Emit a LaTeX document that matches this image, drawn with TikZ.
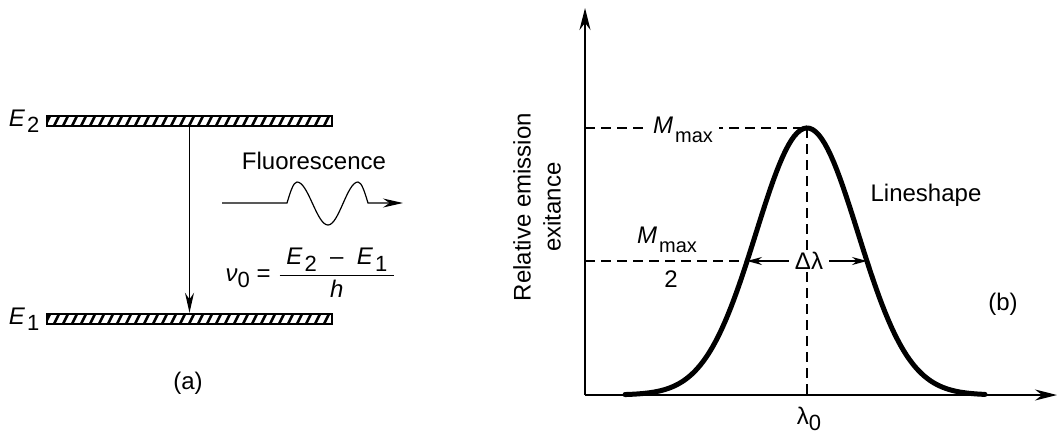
\documentclass[tikz,border=0pt]{standalone}
\usepackage{fontspec}
\setmainfont{Liberation Sans}
\usepackage{amsmath}
\usetikzlibrary{positioning,arrows.meta}
\newcommand{\Elev}[1]{\textit{E}\kern1pt\raisebox{-0.5ex}{\fontsize{11}{11}\selectfont #1}}
\newcommand{\Mmax}{\textit{M}\kern1pt\raisebox{-0.7ex}{\fontsize{10}{10}\selectfont max}}

\begin{document}
\begin{tikzpicture}[
    x=0.5pt,y=-0.5pt,>={Stealth[length=10pt,width=4.5pt]},
    every node/.style={font=\fontsize{12}{15}\selectfont,inner sep=1pt},
    levelbar/.style={draw,line width=1.2pt,minimum width=142.5pt,minimum height=5pt,inner sep=0pt,
        path picture={\foreach \i in {0,...,32}
            \draw[line width=1.3pt] ([xshift=\i*4.5pt-1pt]path picture bounding box.south west) -- ++(3pt,6pt);}},
    guide/.style={dash pattern=on 5pt off 3pt,line width=0.6pt},
    thinline/.style={line width=0.6pt},
    axis/.style={line width=1pt,-{Stealth[length=11pt,width=5.5pt]}},
    profile/.style={line width=2.5pt,line cap=round}
]
    \useasboundingbox (0,0) rectangle (1059,434);
    %Left panel
    \node[levelbar] (E2bar) at (189.5,121) {};
    \node[levelbar] (E1bar) at (189.5,319) {};
    \node[left=2pt of E2bar] (E2) {\Elev{2}};
    \node[left=2pt of E1bar] (E1) {\Elev{1}};
    \draw[thinline,->] (E2bar.south) -- (E1bar.north);
    \node (fluo) at (314,161) {Fluorescence};
    \coordinate (w0) at (222,203);
    \coordinate (w1) at (403,203);
    \draw[thinline,->] (w0) -- (287,203) sin (297,182) cos (312.5,203.5) sin (328,225)
        cos (343,203.5) sin (358,182) cos (368,203) -- (w1);
    \node (freq) at (311,273) {\textit{ν}\raisebox{-0.5ex}{\fontsize{11}{11}\selectfont 0} = $\dfrac{\text{\ \Elev{2} \ – \ \Elev{1}\ }}{\text{\textit{h}}}$};
    \node (tagA) at (188,383) {(a)};
    %Right panel
    \coordinate (O) at (585,395);
    \coordinate (ytop) at (585,8);
    \coordinate (xend) at (1057,395);
    \coordinate (peak) at (807,128);
    \coordinate (hl) at (747,261);
    \coordinate (hr) at (867,261);
    \draw[guide] (O |- peak) -- (peak);
    \draw[guide] (O |- hl) -- (hl);
    \draw[guide] (peak) -- (peak |- O);
    \draw[axis] (O) -- (ytop);
    \draw[axis] (O) -- (xend);
    \draw[profile] plot[domain=625:985,samples=120] (\x,{395-267*exp(-0.5*((\x-807)/51)^2)});
    \node[fill=white,inner xsep=3pt] (mmax) at (683,130) {\Mmax};
    \node (mhalf) at (667,240) {\Mmax};
    \node (two) at (671,279) {2};
    \node[fill=white,inner xsep=3pt] (dl) at (809,261) {Δλ};
    \draw[thinline,->,>={Stealth[length=7.5pt,width=4pt]}] (dl.west) -- (hl);
    \draw[thinline,->,>={Stealth[length=7.5pt,width=4pt]}] (dl.east) -- (hr);
    \node (lam0) at (809,419) {λ\raisebox{-0.5ex}{\fontsize{11}{11}\selectfont 0}};
    \node (shape) at (926,195) {Lineshape};
    \node[rotate=90,align=center] (ylab) at (537,207) {Relative emission\\exitance};
    \node (tagB) at (1003,304) {(b)};
\end{tikzpicture}
\end{document}
